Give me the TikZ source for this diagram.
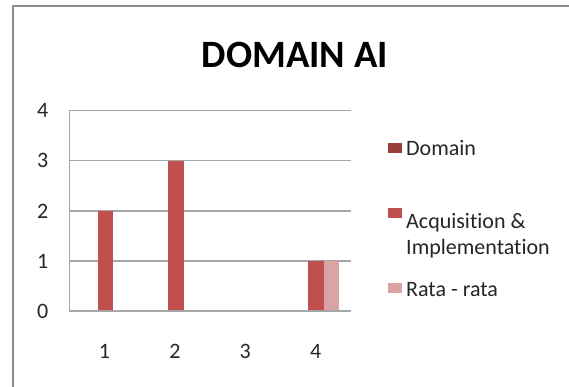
\documentclass[tikz,border=0pt]{standalone}
\usepackage{fontspec}
\setmainfont{Carlito}[RawFeature={-liga;-clig;-calt;-dlig}]
\definecolor{acq}{HTML}{C0504D}
\definecolor{rata}{HTML}{D9A5A4}
\definecolor{dom}{HTML}{9B3D3B}
\definecolor{gridc}{HTML}{A6A6A6}
\definecolor{framec}{HTML}{8C8C8C}
\tikzset{
  lbl/.style={font=\fontsize{22}{26}\selectfont, inner sep=0pt, text=black!85},
  key/.style={inner sep=0pt, minimum width=14pt, minimum height=10pt},
  gridline/.style={draw=gridc, line width=1.4pt},
}
\begin{document}
\begin{tikzpicture}[x=1pt,y=-1pt]
\useasboundingbox (0,0) rectangle (569,387);
\fill[white] (0,0) rectangle (569,387);
% outer frame
\draw[framec, line width=2pt] (13.3,387) -- (13.3,6) -- (569,6);
% title
\node[font=\fontsize{38.7}{46}\selectfont\bfseries, anchor=base, inner sep=0pt] (title) at (294.9,67.7) {DOMAIN AI};
% gridlines
\foreach \v/\yy in {1/261,2/210.8,3/160.7,4/110.7}{
  \draw[gridline] (69.3,\yy) -- (351,\yy);
}
% bars
\fill[acq] (97.5,210.8) rectangle (113.3,311);
\fill[acq] (167.7,160.7) rectangle (183.7,311);
\fill[acq] (308.3,261) rectangle (324.3,311);
\fill[rata] (324.3,261) rectangle (339.3,311);
% axes
\draw[gridline] (69.3,110.7) -- (69.3,311) -- (351,311);
% y tick labels
\node[lbl, anchor=base] (y0) at (42.8,318.3) {0};
\node[lbl, anchor=base] (y1) at (42.8,268.3) {1};
\node[lbl, anchor=base] (y2) at (42.8,218.1) {2};
\node[lbl, anchor=base] (y3) at (42.8,168.0) {3};
\node[lbl, anchor=base] (y4) at (42.8,118.0) {4};
% x tick labels
\node[lbl, anchor=base] (x1) at (104.5,358) {1};
\node[lbl, anchor=base] (x2) at (174.9,358) {2};
\node[lbl, anchor=base] (x3) at (245.3,358) {3};
\node[lbl, anchor=base] (x4) at (315.7,358) {4};
% legend
\node[key, fill=dom] (k1) at (394.5,148) {};
\node[lbl, anchor=base west] (l1) at (406,156) {Domain};
\node[key, fill=acq] (k2) at (394.5,213.3) {};
\node[lbl, anchor=base west, align=left] (l2) at (406,254) {Acquisition \&\\Implementation};
\node[key, fill=rata] (k3) at (394.5,288.3) {};
\node[lbl, anchor=base west] (l3) at (406,296.5) {Rata - rata};
\end{tikzpicture}
\end{document}
